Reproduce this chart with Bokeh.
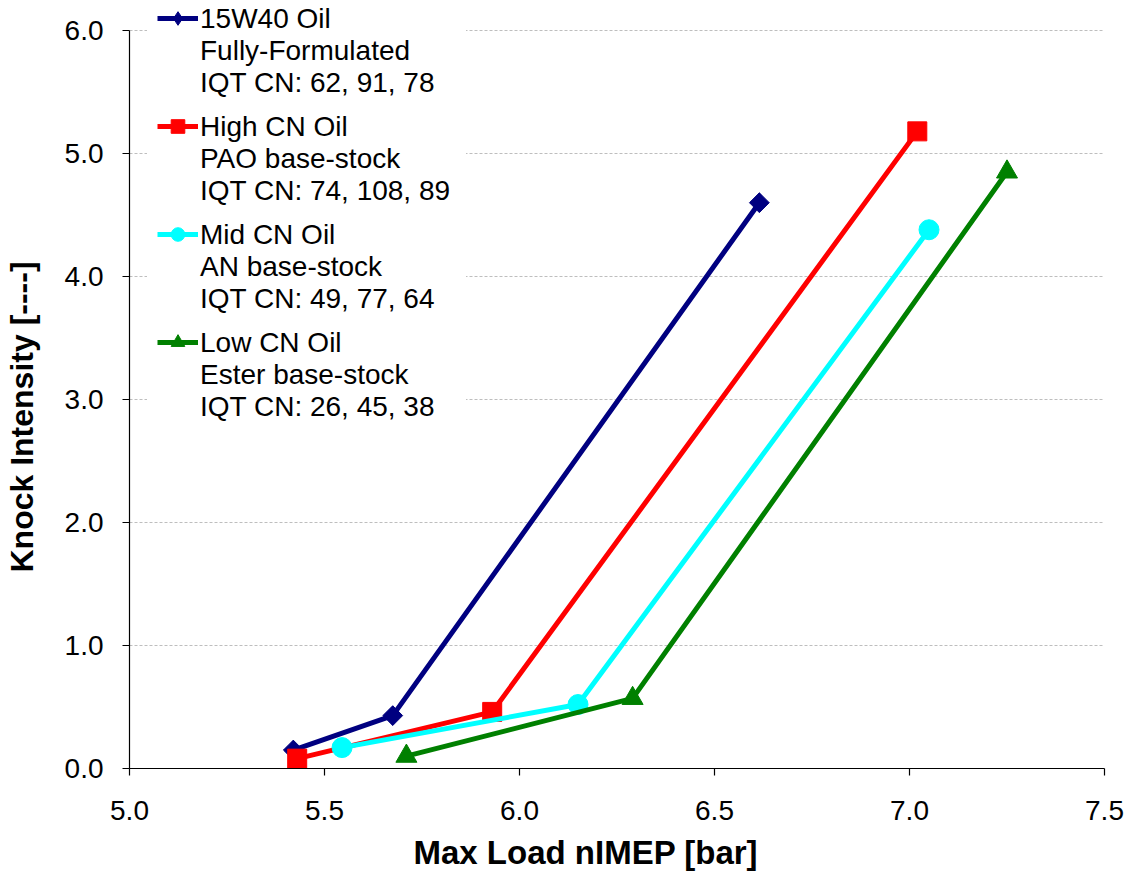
from bokeh.plotting import figure
from bokeh.models import Legend, LegendItem, Range1d, FixedTicker, PrintfTickFormatter, Title
from bokeh.embed import file_html
from bokeh.resources import INLINE
import numpy as np

# ---- data ----
oil15w40_x = [5.42, 5.675, 6.615]
oil15w40_y = [0.15, 0.43, 4.60]
high_x = [5.43, 5.93, 7.02]
high_y = [0.08, 0.46, 5.18]
mid_x = [5.545, 6.15, 7.05]
mid_y = [0.17, 0.52, 4.38]
low_x = [5.71, 6.29, 7.25]
low_y = [0.10, 0.57, 4.85]

labels = [
    "15W40 Oil\nFully-Formulated\nIQT CN: 62, 91, 78",
    "High CN Oil\nPAO base-stock\nIQT CN: 74, 108, 89",
    "Mid CN Oil\nAN base-stock\nIQT CN: 49, 77, 64",
    "Low CN Oil\nEster base-stock\nIQT CN: 26, 45, 38",
]
x_ticks = [5.0, 5.5, 6.0, 6.5, 7.0, 7.5]
y_ticks = [0.0, 1.0, 2.0, 3.0, 4.0, 5.0, 6.0]
x_title = "Max Load nIMEP [bar]"
y_title = "Knock Intensity [----]"

FONT = "Liberation Sans"
FRAME_LEFT, FRAME_BOTTOM = 129, 768
Y_TOP = 6.0 * 768 / 738  # frame reaches the top of the canvas; 6.0 sits 30 px below it

p = figure(width=1126, height=875, output_backend="svg", toolbar_location=None,
           x_range=Range1d(5.0, 7.5), y_range=Range1d(0.0, Y_TOP),
           min_border_left=129, min_border_right=22, min_border_top=0, min_border_bottom=107)
p.outline_line_color = None
p.background_fill_color = "white"
p.border_fill_color = "white"

p.xgrid.grid_line_color = None
p.ygrid.grid_line_color = "#BEBEBE"
p.ygrid.grid_line_dash = "3 2"
p.ygrid.grid_line_width = 1

for ax in (p.xaxis[0], p.yaxis[0]):
    ax.axis_line_color = "black"
    ax.axis_line_width = 1.2
    ax.major_tick_line_color = "black"
    ax.major_tick_line_width = 1.2
    ax.major_tick_out = 7
    ax.major_tick_in = 0
    ax.minor_tick_line_color = None
    ax.major_label_text_font = FONT
    ax.major_label_text_font_size = "28px"
    ax.major_label_text_color = "black"

p.yaxis.bounds = (0.0, 6.0)
p.xaxis.ticker = FixedTicker(ticks=x_ticks)
p.yaxis.ticker = FixedTicker(ticks=y_ticks)
p.xaxis.formatter = PrintfTickFormatter(format="%.1f")
p.yaxis.formatter = PrintfTickFormatter(format="%.1f")
p.xaxis.major_label_standoff = 25
p.yaxis.major_label_standoff = 19

# axis titles as Titles in the side panels (off-centre, as in the reference)
def spacer(gap):
    return Title(text=" ", text_font_size="1px", standoff=gap)

p.add_layout(spacer(6), "below")
p.add_layout(Title(text=x_title, align="left", offset=284, standoff=0,
                   text_font=FONT, text_font_size="33px", text_font_style="bold",
                   text_color="black"), "below")
p.add_layout(spacer(19), "left")
p.add_layout(Title(text=y_title, align="left", offset=196, standoff=0,
                   text_font=FONT, text_font_size="32px", text_font_style="bold",
                   text_color="black"), "left")

series = [
    (oil15w40_x, oil15w40_y, "#000080", "square", 14, np.pi / 4),
    (high_x, high_y, "#FF0000", "square", 19, 0.0),
    (mid_x, mid_y, "#00FFFF", "circle", 20, 0.0),
    (low_x, low_y, "#008000", "triangle", 21, 0.0),
]

# invisible helper renderer for the text-only legend
dummy = p.line(x=[], y=[], line_alpha=0)

text_items, glyph_items = [], []
for i, ((xs, ys, col, mk, sz, ang), lab) in enumerate(zip(series, labels)):
    ln = p.line(xs, ys, line_color=col, line_width=5)
    if i == 0:
        # diamond marker (drawn under the rotated squares) so the legend shows a diamond
        dm = p.scatter(xs, ys, marker="diamond", size=19, fill_color=col, line_color=col)
    sc = p.scatter(xs, ys, marker=mk, size=sz, angle=ang, fill_color=col, line_color=col)
    glyph_items.append(LegendItem(label="", renderers=[ln, dm if i == 0 else sc]))
    text_items.append(LegendItem(label=lab, renderers=[dummy]))

# text block legend (white background hides the gridlines behind it)
legend_t = Legend(items=text_items, location=(147 - FRAME_LEFT, FRAME_BOTTOM - 423))
legend_t.label_text_font = FONT
legend_t.label_text_font_size = "28px"
legend_t.label_text_color = "black"
legend_t.glyph_width = 45
legend_t.glyph_height = 20
legend_t.label_standoff = 8
legend_t.label_width = 266
legend_t.spacing = 12
legend_t.padding = 2
legend_t.margin = 0
legend_t.border_line_color = None
legend_t.background_fill_color = "white"
legend_t.background_fill_alpha = 1.0
p.add_layout(legend_t)

# glyph legend, aligned to the first line of each text block
legend_g = Legend(items=glyph_items, location=(157 - FRAME_LEFT, FRAME_BOTTOM - 359))
legend_g.label_text_font_size = "1px"
legend_g.label_height = 20
legend_g.label_width = 0
legend_g.label_standoff = 0
legend_g.glyph_width = 41
legend_g.glyph_height = 34
legend_g.spacing = 74
legend_g.padding = 0
legend_g.margin = 0
legend_g.border_line_color = None
legend_g.background_fill_alpha = 0.0
p.add_layout(legend_g)

open("out.html", "w").write(file_html(p, INLINE))
